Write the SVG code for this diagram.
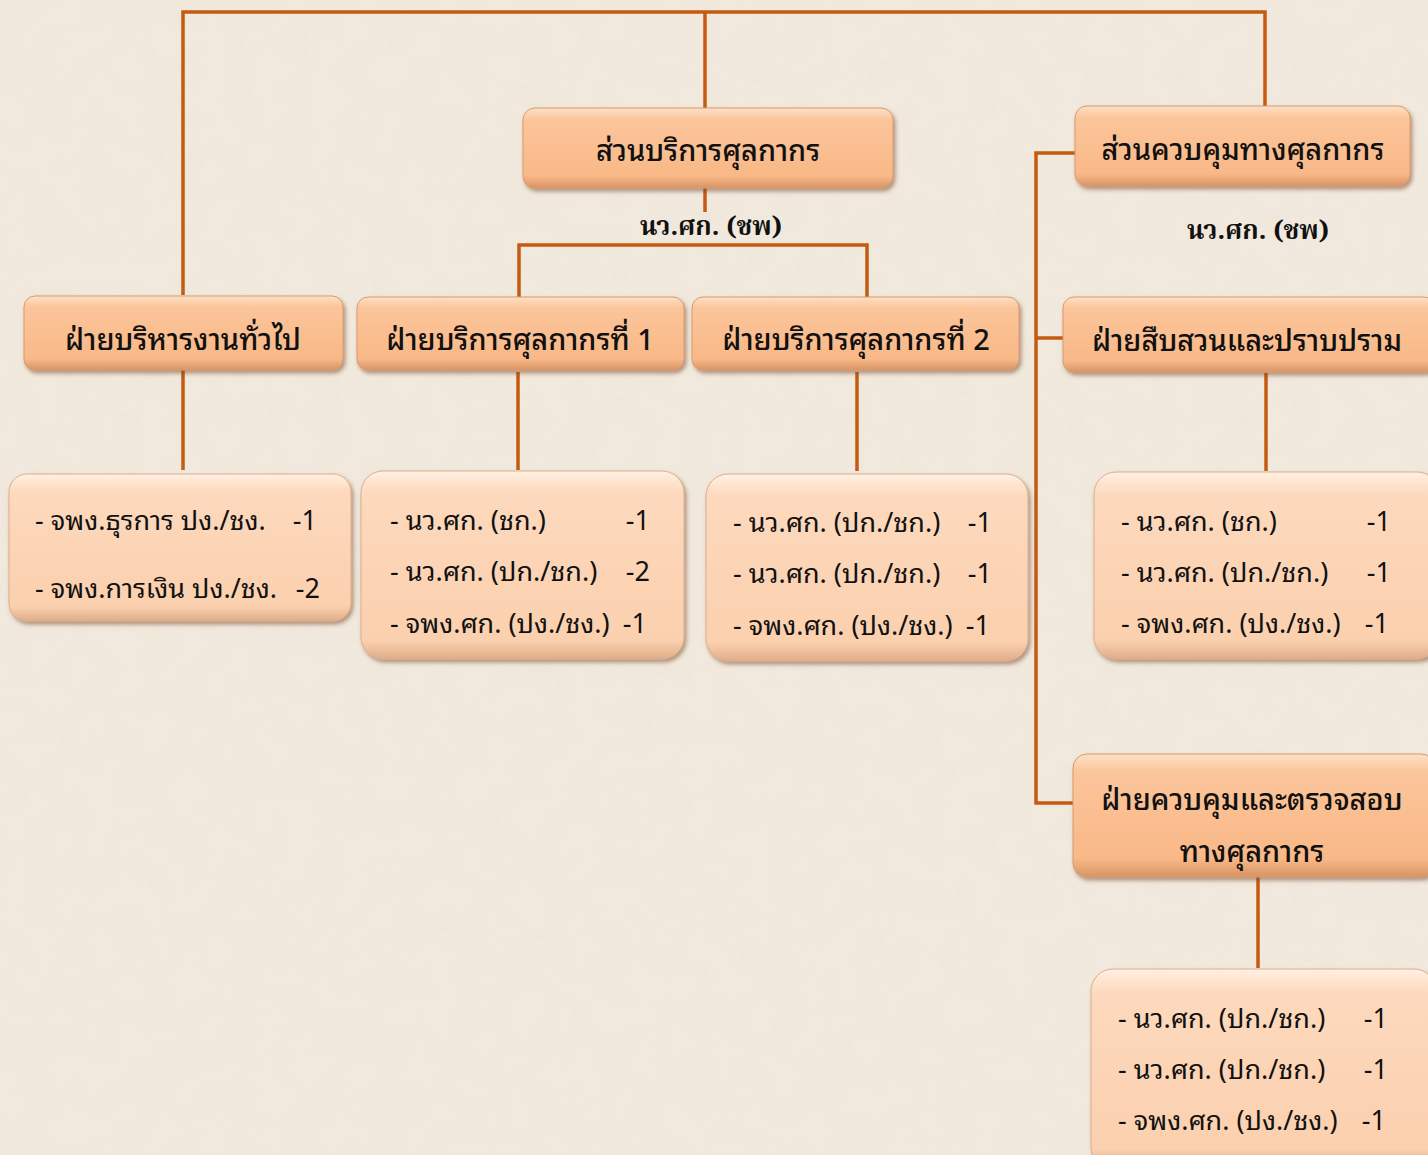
<svg xmlns="http://www.w3.org/2000/svg" width="1428" height="1155" viewBox="0 0 1428 1155">
<style>
.t{font-family:"Noto Sans Thai Looped","Noto Looped Thai","Noto Sans Thai","Noto Sans","DejaVu Sans",sans-serif;fill:#111;}
.h{font-size:29px;font-weight:500;text-anchor:middle;}
.d{font-size:27px;}
.r{text-anchor:end;}
.s{font-family:"Noto Serif Thai","Noto Sans Thai","Liberation Serif",serif;font-size:26px;font-weight:bold;text-anchor:middle;fill:#111;}
.ln{fill:none;stroke:#c55a11;stroke-width:3.5;}
.hd{fill:url(#gh);stroke:#d99a6c;stroke-width:1;filter:url(#sh);}
.bx{fill:url(#gb);stroke:#dcae8e;stroke-width:1;filter:url(#sh);}
</style>
<defs>
<linearGradient id="gh" x1="0" y1="0" x2="0" y2="1">
<stop offset="0" stop-color="#fde0c6"/>
<stop offset="0.15" stop-color="#fbc59a"/>
<stop offset="0.85" stop-color="#f9b887"/>
<stop offset="1" stop-color="#d89464"/>
</linearGradient>
<linearGradient id="gb" x1="0" y1="0" x2="0" y2="1">
<stop offset="0" stop-color="#fff0e2"/>
<stop offset="0.12" stop-color="#fdd9bd"/>
<stop offset="0.9" stop-color="#fbd0ae"/>
<stop offset="1" stop-color="#e0ad88"/>
</linearGradient>
<filter id="sh" x="-5%" y="-10%" width="112%" height="125%">
<feGaussianBlur in="SourceAlpha" stdDeviation="2"/>
<feOffset dx="2" dy="3" result="o"/>
<feFlood flood-color="#7a4a2a" flood-opacity="0.55"/>
<feComposite in2="o" operator="in"/>
<feMerge><feMergeNode/><feMergeNode in="SourceGraphic"/></feMerge>
</filter>
<filter id="paper" x="0" y="0" width="100%" height="100%">
<feTurbulence type="fractalNoise" baseFrequency="0.035" numOctaves="3" seed="4"/>
<feColorMatrix type="matrix" values="0 0 0 0 0.85  0 0 0 0 0.78  0 0 0 0 0.68  0 0 0 -2.2 1.25"/>
</filter>
</defs>
<rect width="1428" height="1155" fill="#f1e9dd"/>
<rect width="1428" height="1155" filter="url(#paper)" opacity="0.45"/>

<g id="connectors">
<path class="ln" d="M183 295V12H1265V107"/>
<path class="ln" d="M705 12V108"/>
<path class="ln" d="M705 188V212"/>
<path class="ln" d="M519 297V245H867V297"/>
<path class="ln" d="M1083 153H1036V803H1073"/>
<path class="ln" d="M1036 338H1063"/>
<path class="ln" d="M183 370V470"/>
<path class="ln" d="M518 372V470"/>
<path class="ln" d="M857 372V471"/>
<path class="ln" d="M1266 373V471"/>
<path class="ln" d="M1258 877V968"/>
</g>

<g id="n-service">
<rect class="hd" x="523" y="108" width="370" height="80" rx="12"/>
<text class="t h" x="708" y="161">ส่วนบริการศุลกากร</text>
</g>
<text class="s" x="711" y="235">นว.ศก. (ชพ)</text>

<g id="n-control">
<rect class="hd" x="1075" y="106" width="335" height="80" rx="12"/>
<text class="t h" x="1243" y="160">ส่วนควบคุมทางศุลกากร</text>
</g>
<text class="s" x="1258" y="239">นว.ศก. (ชพ)</text>

<g id="n-admin">
<rect class="hd" x="24" y="296" width="319" height="74" rx="11"/>
<text class="t h" x="183" y="350">ฝ่ายบริหารงานทั่วไป</text>
</g>
<g id="n-svc1">
<rect class="hd" x="357" y="297" width="327" height="73" rx="11"/>
<text class="t h" x="520" y="350">ฝ่ายบริการศุลกากรที่ 1</text>
</g>
<g id="n-svc2">
<rect class="hd" x="692" y="297" width="327" height="73" rx="11"/>
<text class="t h" x="856" y="350">ฝ่ายบริการศุลกากรที่ 2</text>
</g>
<g id="n-invest">
<rect class="hd" x="1063" y="297" width="372" height="75" rx="11"/>
<text class="t h" x="1247" y="351">ฝ่ายสืบสวนและปราบปราม</text>
</g>
<g id="n-inspect">
<rect class="hd" x="1073" y="754" width="362" height="123" rx="14"/>
<text class="t h" x="1252" y="810">ฝ่ายควบคุมและตรวจสอบ</text>
<text class="t h" x="1252" y="862">ทางศุลกากร</text>
</g>

<g id="b-admin">
<rect class="bx" x="9" y="474" width="342" height="147" rx="18"/>
<text class="t d" x="35" y="530">- จพง.ธุรการ ปง./ชง.<tspan x="317" class="r">-1</tspan></text>
<text class="t d" x="35" y="598">- จพง.การเงิน ปง./ชง.<tspan x="320" class="r">-2</tspan></text>
</g>
<g id="b-svc1">
<rect class="bx" x="361" y="471" width="323" height="188" rx="22"/>
<text class="t d" x="390" y="530">- นว.ศก. (ชก.)<tspan x="650" class="r">-1</tspan></text>
<text class="t d" x="390" y="581">- นว.ศก. (ปก./ชก.)<tspan x="650" class="r">-2</tspan></text>
<text class="t d" x="390" y="633">- จพง.ศก. (ปง./ชง.)<tspan x="647" class="r">-1</tspan></text>
</g>
<g id="b-svc2">
<rect class="bx" x="706" y="474" width="322" height="187" rx="22"/>
<text class="t d" x="733" y="532">- นว.ศก. (ปก./ชก.)<tspan x="992" class="r">-1</tspan></text>
<text class="t d" x="733" y="583">- นว.ศก. (ปก./ชก.)<tspan x="992" class="r">-1</tspan></text>
<text class="t d" x="733" y="635">- จพง.ศก. (ปง./ชง.)<tspan x="990" class="r">-1</tspan></text>
</g>
<g id="b-invest">
<rect class="bx" x="1094" y="472" width="345" height="187" rx="22"/>
<text class="t d" x="1121" y="531">- นว.ศก. (ชก.)<tspan x="1391" class="r">-1</tspan></text>
<text class="t d" x="1121" y="582">- นว.ศก. (ปก./ชก.)<tspan x="1391" class="r">-1</tspan></text>
<text class="t d" x="1121" y="633">- จพง.ศก. (ปง./ชง.)<tspan x="1389" class="r">-1</tspan></text>
</g>
<g id="b-inspect">
<rect class="bx" x="1091" y="969" width="345" height="200" rx="22"/>
<text class="t d" x="1118" y="1028">- นว.ศก. (ปก./ชก.)<tspan x="1388" class="r">-1</tspan></text>
<text class="t d" x="1118" y="1079">- นว.ศก. (ปก./ชก.)<tspan x="1388" class="r">-1</tspan></text>
<text class="t d" x="1118" y="1130">- จพง.ศก. (ปง./ชง.)<tspan x="1386" class="r">-1</tspan></text>
</g>
</svg>
